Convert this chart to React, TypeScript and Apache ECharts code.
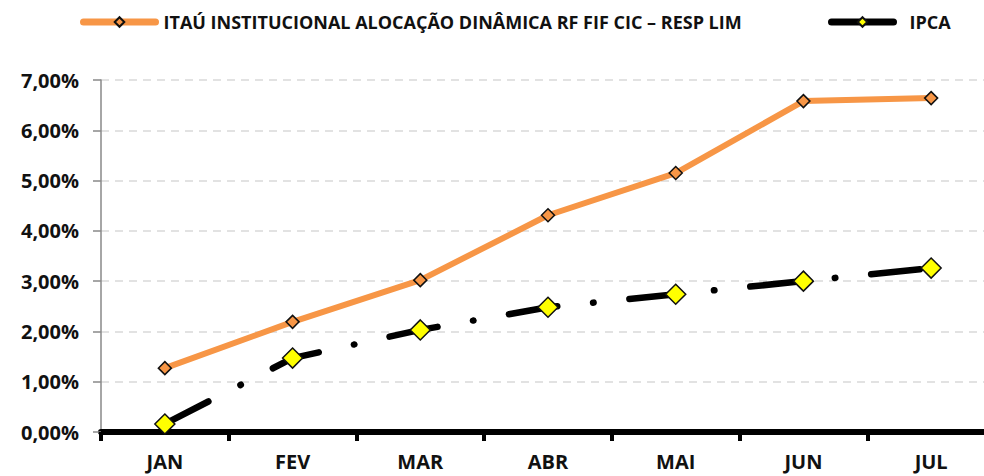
import React, { useEffect, useRef } from "react";
import * as echarts from "echarts";

const months = ["JAN", "FEV", "MAR", "ABR", "MAI", "JUN", "JUL"];
const fundName = "ITAÚ INSTITUCIONAL ALOCAÇÃO DINÂMICA RF FIF CIC – RESP LIM";
const fundValues = [1.27, 2.19, 3.02, 4.31, 5.15, 6.58, 6.64];
const ipcaName = "IPCA";
const ipcaValues = [0.16, 1.47, 2.03, 2.48, 2.74, 3.0, 3.26];

const FONT = "'Open Sans', Lato, sans-serif";

export default function App() {
  const ref = useRef<HTMLDivElement>(null);
  useEffect(() => {
    if (!ref.current) return;
    const chart = echarts.init(ref.current, null, { renderer: "svg" });
    chart.setOption({
      animation: false,
      backgroundColor: "#ffffff",
      legend: [
        {
          left: 75,
          top: 8,
          itemWidth: 72,
          itemHeight: 12,
          itemGap: 10,
          textStyle: {
            fontFamily: FONT,
            fontWeight: "bold",
            fontSize: 18,
            color: "#111",
            padding: [0, 0, 0, 3],
          },
          data: [
            {
              name: fundName,
              lineStyle: { type: "solid", width: 7, cap: "round", color: "#F79646" },
            },
          ],
        },
        {
          left: 823,
          top: 8,
          itemWidth: 62,
          itemHeight: 12,
          itemGap: 10,
          textStyle: {
            fontFamily: FONT,
            fontWeight: "bold",
            fontSize: 18,
            color: "#111",
            padding: [0, 0, 0, 11],
          },
          data: [
            {
              name: ipcaName,
              lineStyle: { type: "solid", width: 7, cap: "round", color: "#000" },
            },
          ],
        },
      ],
      grid: {
        left: 101,
        top: 80,
        width: 894,
        height: 352,
        containLabel: false,
        outerBoundsMode: "none",
      },
      xAxis: {
        type: "category",
        data: months,
        boundaryGap: true,
        axisLine: { show: true, lineStyle: { color: "#000", width: 6 } },
        axisTick: { show: true, length: 9, lineStyle: { color: "#000", width: 4 } },
        axisLabel: {
          margin: 19,
          fontFamily: FONT,
          fontWeight: "bold",
          fontSize: 20,
          color: "#111",
        },
        splitLine: { show: false },
      },
      yAxis: {
        type: "value",
        min: 0,
        max: 7,
        interval: 1,
        axisLine: { show: true, lineStyle: { color: "#888", width: 1.5 } },
        axisTick: { show: true, length: 8, lineStyle: { color: "#888", width: 1.5 } },
        axisLabel: {
          margin: 22,
          fontFamily: FONT,
          fontWeight: "bold",
          fontSize: 20,
          color: "#111",
          formatter: (v: number) => v.toFixed(2).replace(".", ",") + "%",
        },
        splitLine: {
          show: true,
          lineStyle: { color: "#d9d9d9", width: 1.5, type: [8, 6] },
        },
      },
      series: [
        {
          name: fundName,
          type: "line",
          data: fundValues,
          symbol: "diamond",
          symbolSize: 13,
          lineStyle: { color: "#F79646", width: 6 },
          itemStyle: { color: "#F79646", borderColor: "#111", borderWidth: 1.5 },
          z: 3,
        },
        {
          name: ipcaName,
          type: "line",
          data: ipcaValues,
          symbol: "diamond",
          symbolSize: 20,
          lineStyle: { color: "#000", width: 6.5, type: [49, 36, 0.5, 36], cap: "round" },
          itemStyle: { color: "#FFFF00", borderColor: "#111", borderWidth: 1.5 },
          z: 4,
        },
      ],
    });
    return () => chart.dispose();
  }, []);
  return <div ref={ref} style={{ width: 984, height: 476, position: "absolute", left: 0, top: 0 }} />;
}
